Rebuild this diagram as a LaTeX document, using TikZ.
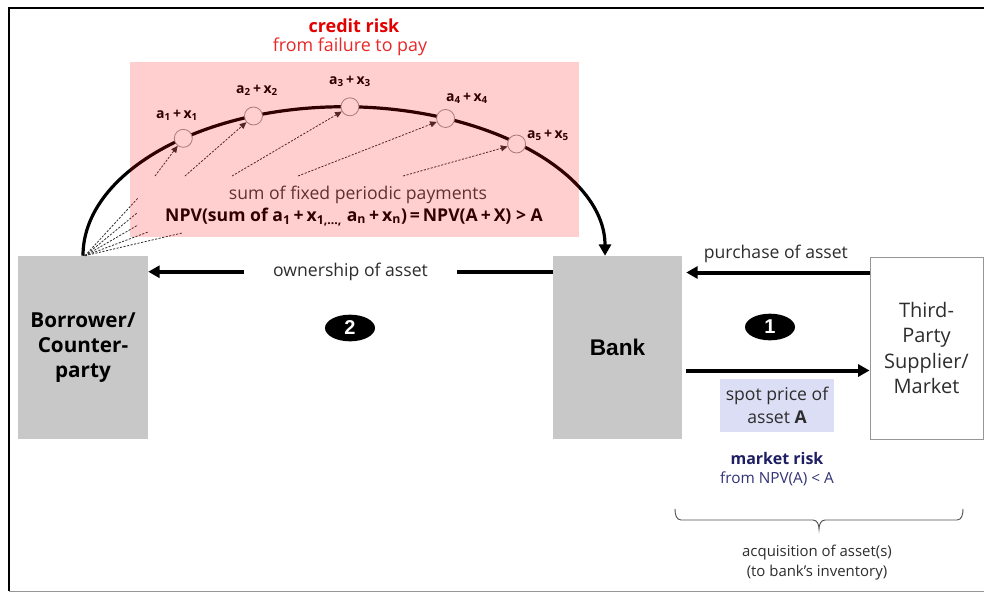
\documentclass[tikz,border=0pt]{standalone}
\usepackage{fontspec}
\setmainfont{Open Sans}
\newfontfamily\arialfont{Liberation Sans}
\usetikzlibrary{shapes.geometric,arrows.meta,calc}
\definecolor{boxgray}{RGB}{200,200,200}
\definecolor{txt}{RGB}{45,45,45}
\definecolor{creditred}{RGB}{226,0,0}
\definecolor{creditred2}{RGB}{232,40,40}
\definecolor{navy}{RGB}{30,30,100}
\definecolor{navy2}{RGB}{50,50,120}
\definecolor{spotbg}{RGB}{220,222,245}
\definecolor{tpborder}{RGB}{150,150,150}
\definecolor{sumtxt}{RGB}{60,60,60}
\definecolor{bracecol}{RGB}{80,80,80}
\begin{document}
\begin{tikzpicture}[x=0.75pt,y=-0.75pt,
  graybox/.style={fill=boxgray, inner sep=0pt, align=center, minimum height=137.25pt},
  lbl/.style={font=\fontsize{13.2}{16}\selectfont, text=txt, inner sep=0pt},
  small/.style={font=\fontsize{11.2}{14}\selectfont, text=txt, inner sep=0pt},
  bigarr/.style={line width=3pt, -{Triangle[length=8.5pt,width=9pt]}},
  dotarr/.style={dash pattern=on 1.6pt off 1.1pt, line width=0.6pt, draw=txt, -{Triangle[length=5pt,width=4.5pt]}},
  fanline/.style={dash pattern=on 1.6pt off 1.1pt, line width=0.6pt, draw=txt},
  pay/.style={circle, draw=tpborder, line width=0.6pt, fill=white, minimum size=13.5pt, inner sep=0pt},
  paylbl/.style={font=\fontsize{10.5}{12}\selectfont\bfseries, text=black, inner sep=0pt},
  badge/.style={ellipse, fill=black, text=white, minimum width=37.5pt, minimum height=20pt, inner sep=0pt, font=\arialfont\bfseries\fontsize{15}{15}\selectfont}
]
\useasboundingbox (0,0) rectangle (984,593);
% frame
\draw[line width=1.5pt] (984,8) -- (9,8) -- (9,591);
\draw[tpborder, line width=0.75pt] (9,591) -- (984,591);

% boxes
\node[graybox, minimum width=97.5pt, font=\fontsize{15.5}{18.75}\selectfont\bfseries] (bor) at (83,347.5) {Borrower/\\Counter-\\party};
\node[graybox, minimum width=96.75pt, font=\arialfont\bfseries\fontsize{17}{20}\selectfont] (bank) at (617.5,347.5) {Bank};
\node[draw=tpborder, line width=0.75pt, fill=white, inner sep=0pt, align=center, minimum width=84.75pt, minimum height=136.5pt, font=\fontsize{15}{19}\selectfont, text=txt] (tp) at (926.5,348) {Third-\\Party\\Supplier/\\Market};

% credit risk title
\node[font=\fontsize{13.5}{16}\selectfont\bfseries, text=creditred, inner sep=0pt] (cr1) at (354,26) {credit risk};
\node[font=\fontsize{13.4}{16}\selectfont, text=creditred2, inner sep=0pt] (cr2) at (350,47) {from failure to pay};

% arc of payments
\coordinate (ec) at ($(bor.north)+(261,0)$);
\draw[line width=2.4pt, -{Triangle[length=8.5pt,width=9pt]}] (bor.north) arc[start angle=180, end angle=360, x radius=261, y radius=149];

% payment circles
\node[pay] (p1) at ($(ec)+(232:261 and 149)$) {};
\node[pay] (p2) at ($(ec)+(249.7:261 and 149)$) {};
\node[pay] (p3) at ($(ec)+(271.3:261 and 149)$) {};
\node[pay] (p4) at ($(ec)+(292.9:261 and 149)$) {};
\node[pay] (p5) at ($(ec)+(311.4:261 and 149)$) {};

\node[paylbl] (l1) at (177,115) {a\textsubscript{1}\,+\,x\textsubscript{1}};
\node[paylbl] (l2) at (257,90) {a\textsubscript{2}\,+\,x\textsubscript{2}};
\node[paylbl] (l3) at (350,81) {a\textsubscript{3}\,+\,x\textsubscript{3}};
\node[paylbl] (l4) at (467,98) {a\textsubscript{4}\,+\,x\textsubscript{4}};
\node[paylbl] (l5) at (548,135) {a\textsubscript{5}\,+\,x\textsubscript{5}};

% dotted arrows to payments
\coordinate (s1) at (155,176);
\coordinate (s2) at (185,176);
\coordinate (s3) at (232,176);
\coordinate (s4) at (298,176);
\coordinate (s5) at (403,176);
\draw[dotarr] (s1) -- (p1);
\draw[dotarr] (s2) -- (p2);
\draw[dotarr] (s3) -- (p3);
\draw[dotarr] (s4) -- (p4);
\draw[dotarr] (s5) -- (p5);

% fan lines from borrower
\coordinate (f1) at (138,198);
\coordinate (f2) at (137,213);
\coordinate (f3) at (138,225);
\coordinate (f4) at (148,232);
\coordinate (f5) at (182,233);
\foreach \f in {f1,f2,f3,f4,f5} \draw[fanline] ([xshift=1.5pt]bor.north) -- (\f);

% payment texts
\node[lbl, text=sumtxt] (sum) at (358,195) {sum of fixed periodic payments};
\node[font=\fontsize{13.2}{16}\selectfont\bfseries, text=black, inner sep=0pt] (npv) at (354,217) {NPV(sum of a\textsubscript{1}\,+\,x\textsubscript{1,...,} a\textsubscript{n}\,+\,x\textsubscript{n})\,=\,NPV(A\,+\,X) {>} A};

% pink translucent overlay
\fill[red, opacity=0.19] (130,62) rectangle (579,237);

% ownership arrow
\draw[bigarr] ([yshift=-12pt]bank.north west) -- node[lbl, fill=white, inner xsep=22pt, inner ysep=3pt] (own) {ownership of asset} ([yshift=-12pt]bor.north east);
% purchase arrow
\draw[bigarr, shorten >=3pt] ([yshift=-12pt]tp.north west) -- node[lbl, above=6pt] (pur) {purchase of asset} ([yshift=-12pt]tp.north west -| bank.east);
% spot price arrow
\draw[bigarr, shorten <=2.5pt] ([yshift=-17.25pt]bank.east) -- ([yshift=-17.25pt]bank.east -| tp.west);

\node[fill=spotbg, lbl, align=center, minimum width=86pt, minimum height=40pt, font=\fontsize{13.2}{17}\selectfont] (spot) at (777,405.5) {spot price of\\asset \textbf{A}};

% badges
\node[badge] (b1) at (770,327) {1};
\node[badge] (b2) at (350,328) {2};

% market risk
\node[font=\fontsize{12}{14}\selectfont\bfseries, text=navy, inner sep=0pt] (mr1) at (777,458) {market risk};
\node[font=\fontsize{11.5}{14}\selectfont, text=navy2, inner sep=0pt] (mr2) at (777,479) {from NPV(A) {<} A};

% brace
\draw[bracecol, line width=0.7pt] (675,509) to[out=-90,in=180] (681,520) -- (813,520) to[out=0,in=90] (819,529) to[out=90,in=180] (825,520) -- (957,520) to[out=0,in=-90] (963,509);

\node[small] (acq1) at (817,553) {acquisition of asset(s)};
\node[small] (acq2) at (817,573) {(to bank’s inventory)};
\end{tikzpicture}
\end{document}
